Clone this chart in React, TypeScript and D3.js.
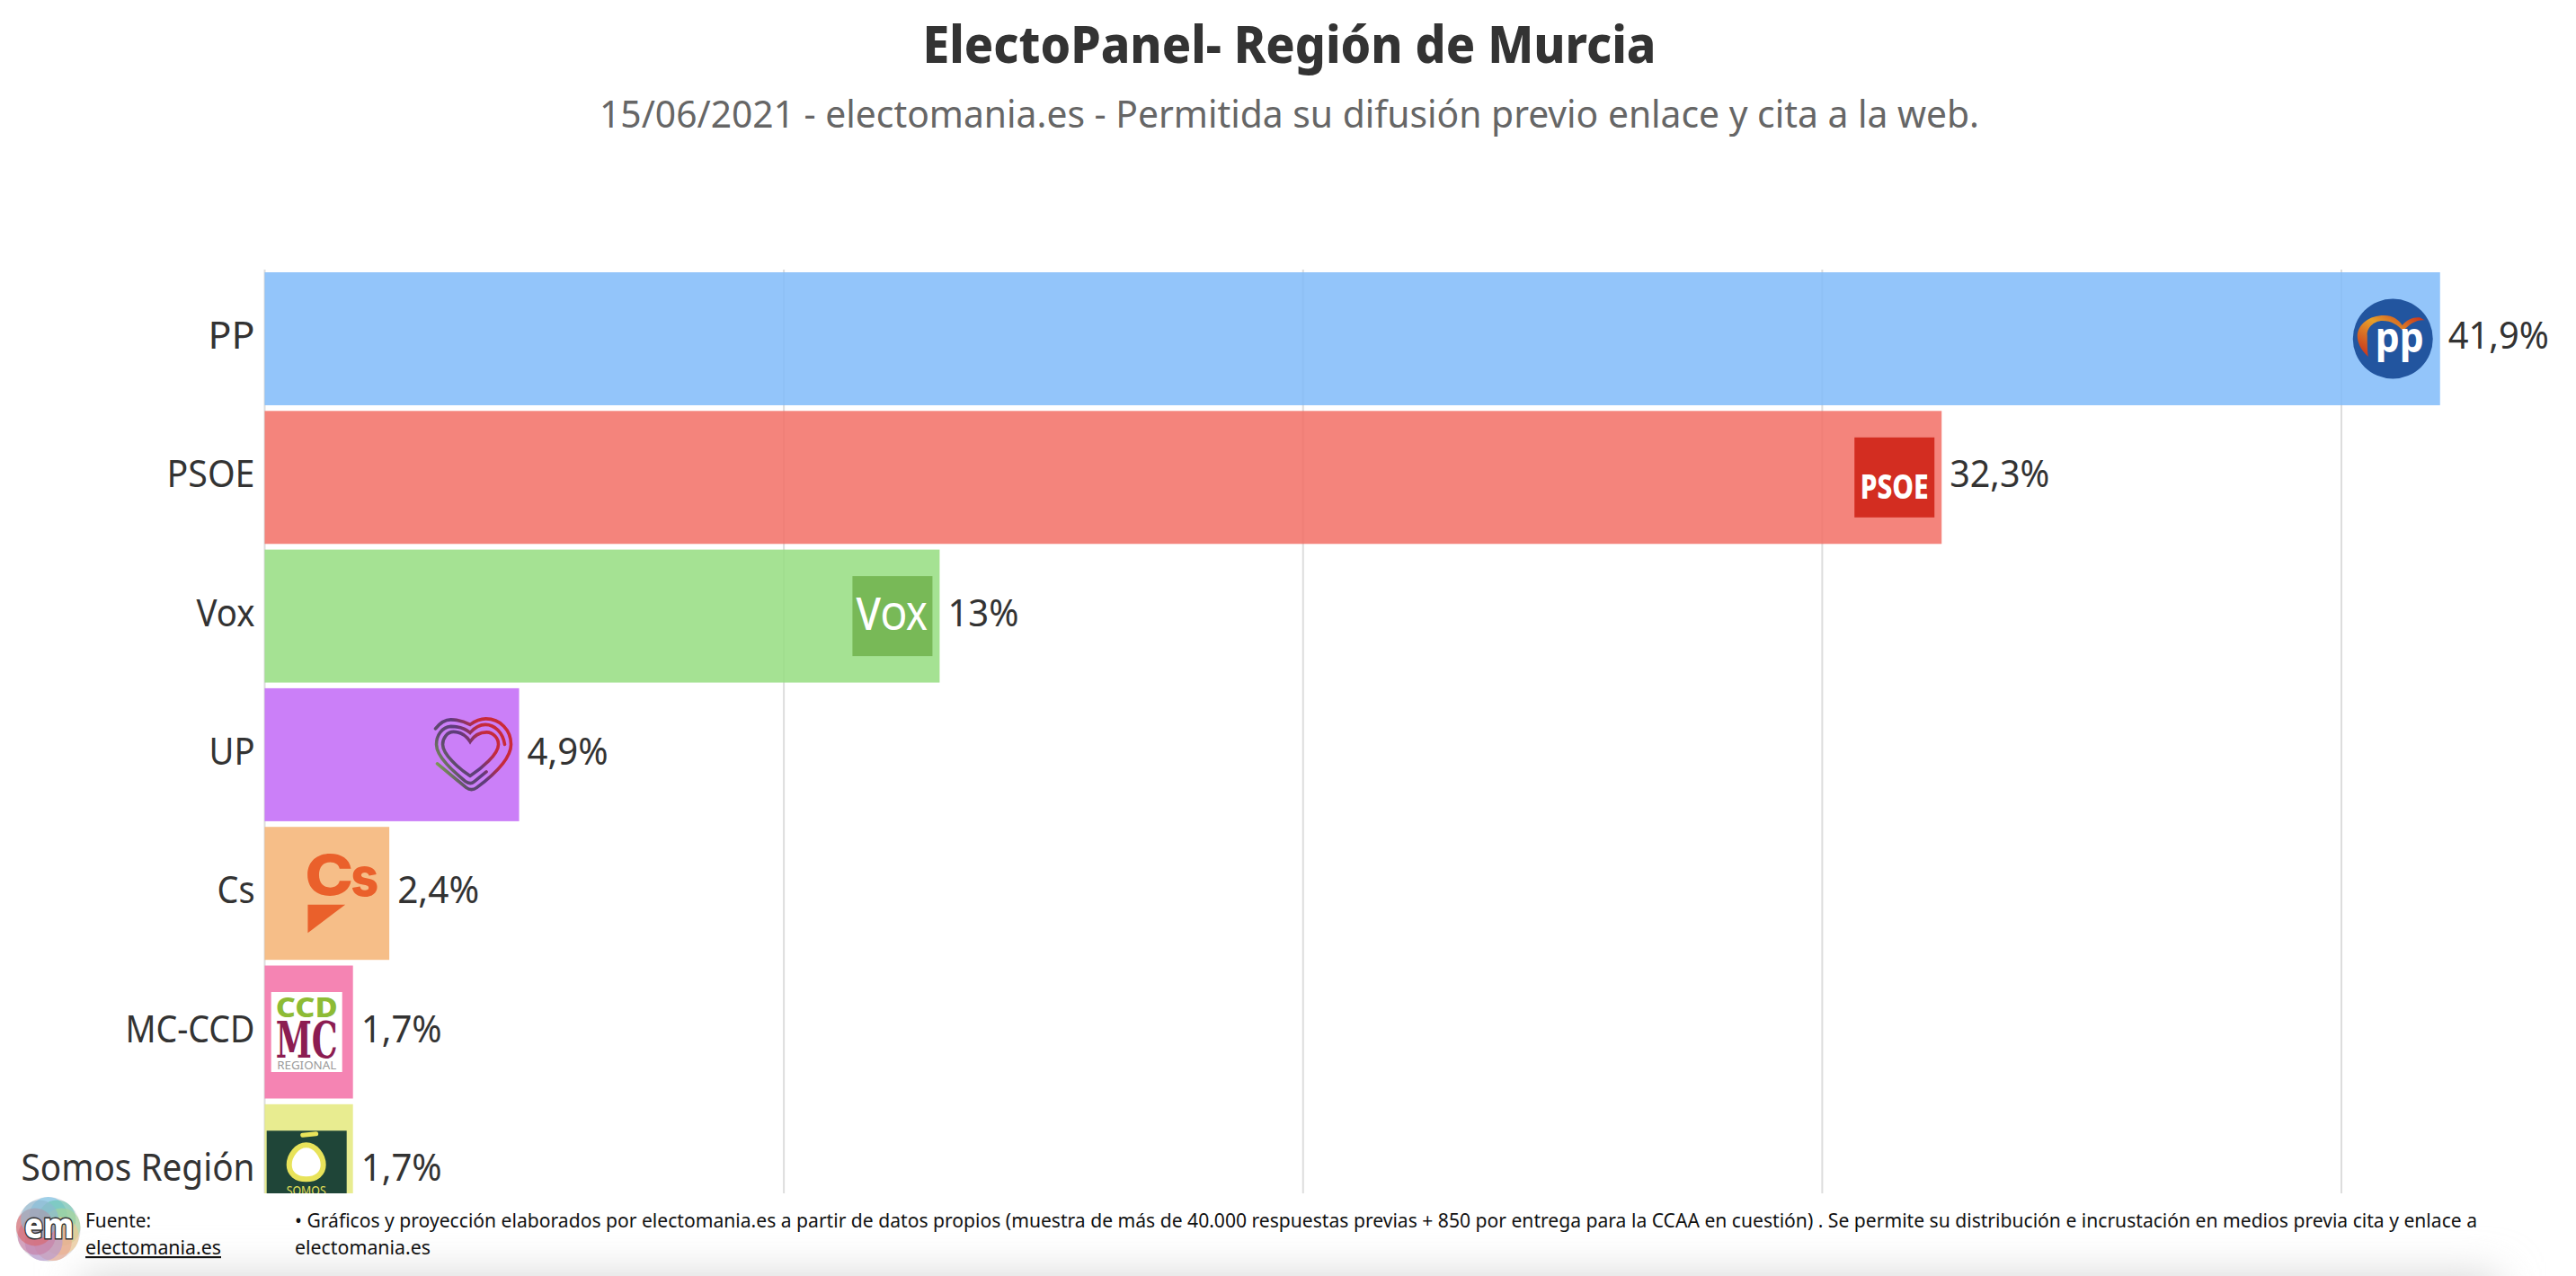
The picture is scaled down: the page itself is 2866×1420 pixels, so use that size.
import React from "react"
import * as d3 from "d3"

const categories = ["PP", "PSOE", "Vox", "UP", "Cs", "MC-CCD", "Somos Región"]
const values = [41.9, 32.3, 13, 4.9, 2.4, 1.7, 1.7]
const valueLabels = ["41,9%", "32,3%", "13%", "4,9%", "2,4%", "1,7%", "1,7%"]
const barColors = ["#80bbf9", "#f26e65", "#95dd80", "#c268f7", "#f4b373", "#f36fa6", "#e4e97c"]
const ticks = [0, 10, 20, 30, 40]

const title = "ElectoPanel- Región de Murcia"
const subtitle = "15/06/2021 - electomania.es - Permitida su difusión previo enlace y cita a la web."
const noteLine1 = "• Gráficos y proyección elaborados por electomania.es a partir de datos propios (muestra de más de 40.000 respuestas previas + 850 por entrega para la CCAA en cuestión) . Se permite su distribución e incrustación en medios previa cita y enlace a"
const noteLine2 = "electomania.es"

const WIDTH = 2866
const HEIGHT = 1420
const FONT = "'Noto Sans', sans-serif"
const LOGO = 89

const x = d3.scaleLinear().domain([0, 40]).range([294.5, 2605])
const y = d3.scaleBand().domain(categories).range([303, 1376.8]).paddingInner(0.041)

const categoryWidths = [52, 98, 65, 51, 42, 144, 260]
const valueWidths = [112, 111, 79, 90, 91, 90, 90]

const heartPaths = [
  "M4 15.5 C10 8 15 5.5 21 5.5 C30 5.5 37 8 42.5 11 C48 7 53 4.5 60 4.5 C76 4.5 88 17 88 33 C88 52 62 72 50 81 C46 84 42 84 38 81 L6 54.5",
  "M81 33 C79 20 70 11 59.5 11 C53 11 47 15 42.5 20 C37 15 29 13 21 13 C11 14 5 23 5 33 C5 47 25 64 37 74 C41 77 44 77 47 74.5 L60.5 63.5",
  "M42.5 30 C38 23 31 19 24 19 C17 19 12 26 12 33 C12 44 30 60 42.5 68 C55 60 74 44 74 33 C74 26 68 19.5 61 19.5 C54 19.5 47 23 42.5 30 Z",
]

// logos are drawn in a local 89x89 box
const logos: Record<string, React.ReactNode> = {
  PP: (
    <g>
      <circle cx={44.5} cy={44.5} r={44.5} fill="#22559f" />
      <path d="M17 64.5 C8 56 5 48 5 41 C6 28 18 18.5 35 18.5 C44 18.5 51 23 55 29.5 C60 23 68 20 75 21 L80 24 C71 23 63 28 56 36 C50 29 43 24.5 33 24.5 C23 24.5 15 33 16 41 C16 49 16 58 17 64.5 Z" fill="url(#ppArc)" />
      <text x={52} y={60} textAnchor="middle" fontFamily={FONT} fontWeight={700} fontSize={46} fill="#fff" textLength={54} lengthAdjust="spacingAndGlyphs">pp</text>
    </g>
  ),
  PSOE: (
    <g>
      <rect width={LOGO} height={LOGO} fill="#d32d21" />
      <text x={44.5} y={68} textAnchor="middle" fontFamily={FONT} fontWeight={800} fontSize={38} fill="#fff" textLength={76} lengthAdjust="spacingAndGlyphs">PSOE</text>
    </g>
  ),
  Vox: (
    <g>
      <rect width={LOGO} height={LOGO} fill="#78b957" />
      <text x={43.5} y={60} textAnchor="middle" fontFamily={FONT} fontWeight={500} fontSize={42} fill="#fff" textLength={79} lengthAdjust="spacingAndGlyphs">
        <tspan fontSize={50}>V</tspan>OX
      </text>
    </g>
  ),
  UP: (
    <g fill="none" strokeWidth={3.6} strokeLinecap="round">
      <defs>
        <linearGradient id="upStroke" gradientUnits="userSpaceOnUse" x1="85" y1="15" x2="5" y2="60">
          <stop offset="0" stopColor="#cc2a36" />
          <stop offset="0.3" stopColor="#c42a3c" />
          <stop offset="0.55" stopColor="#5f3a7e" />
          <stop offset="0.78" stopColor="#5e4a6c" />
          <stop offset="1" stopColor="#7fa650" />
        </linearGradient>
      </defs>
      {heartPaths.map((d) => (
        <path key={d} d={d} stroke="url(#upStroke)" />
      ))}
    </g>
  ),
  Cs: (
    <g fill="#ea602b">
      <text x={3} y={46.5} fontFamily="Inter, sans-serif" fontWeight={800} fontSize={62} textLength={54} lengthAdjust="spacingAndGlyphs">C</text>
      <text x={54} y={47} fontFamily="Inter, sans-serif" fontWeight={800} fontSize={60} textLength={31} lengthAdjust="spacingAndGlyphs">s</text>
      <path d="M6.3 57 H48 L6.3 88.5 Z" />
    </g>
  ),
  "MC-CCD": (
    <g>
      <rect x={6} y={0} width={79} height={89} fill="#fff" />
      <text x={45.5} y={28} textAnchor="middle" fontFamily={FONT} fontWeight={800} fontSize={30} fill="#8dbb35" textLength={69} lengthAdjust="spacingAndGlyphs">CCD</text>
      <text x={45.5} y={73} textAnchor="middle" fontFamily="'DejaVu Serif', serif" fontWeight={700} fontSize={56} fill="#8c1d52" textLength={69} lengthAdjust="spacingAndGlyphs">MC</text>
      <text x={45.5} y={86} textAnchor="middle" fontFamily={FONT} fontSize={13} fill="#9a9a9a" textLength={66} lengthAdjust="spacingAndGlyphs">REGIONAL</text>
    </g>
  ),
  "Somos Región": (
    <g>
      <rect x={1} y={0} width={89} height={89} fill="#1f4538" />
      <path d="M41 5 L56 3.5" stroke="#e8e35a" strokeWidth={5} strokeLinecap="round" fill="none" />
      <path d="M45 16 C35 16 26 27 26 38 C26 48 34 54 45 54 C56 54 64 48 64 38 C64 27 55 16 45 16 Z" fill="#fff" stroke="#e8e35a" strokeWidth={6} />
      <text x={45} y={72} textAnchor="middle" fontFamily={FONT} fontSize={15} fill="#e8e35a" textLength={44} lengthAdjust="spacingAndGlyphs">SOMOS</text>
    </g>
  ),
}

const emPetals = ["#79c4e8", "#6fc6b0", "#a8d49a", "#efc78f", "#e8a890", "#b79ad0", "#c77fa8", "#d9696e", "#8fb8cf"]

const App: React.FC = () => {
  const bw = y.bandwidth()
  return (
    <svg width={WIDTH} height={HEIGHT} style={{ position: "absolute", left: 0, top: 0, display: "block" }}>
      <defs>
        <clipPath id="plotClip">
          <rect x={0} y={290} width={WIDTH} height={1328 - 290} />
        </clipPath>
        <filter id="footShadow" x="-10%" y="-300%" width="120%" height="700%">
          <feGaussianBlur stdDeviation="24" />
        </filter>
        <linearGradient id="ppArc" x1="0" y1="1" x2="1" y2="0">
          <stop offset="0" stopColor="#c4281c" />
          <stop offset="0.55" stopColor="#e6a02a" />
          <stop offset="1" stopColor="#c4281c" />
        </linearGradient>
      </defs>

      <rect x={90} y={1420} width={2690} height={60} fill="#d4d4d4" filter="url(#footShadow)" />

      <text x={1434.5} y={70} textAnchor="middle" fontFamily={FONT} fontWeight={800} fontSize={57} fill="#333" textLength={816} lengthAdjust="spacingAndGlyphs">{title}</text>
      <text x={1434.5} y={142} textAnchor="middle" fontFamily={FONT} fontSize={41} fill="#666" textLength={1535} lengthAdjust="spacingAndGlyphs">{subtitle}</text>

      <g clipPath="url(#plotClip)">
        {ticks.map((t) => (
          <line key={t} x1={x(t)} x2={x(t)} y1={300} y2={1328} stroke="#dddddd" strokeWidth={2} />
        ))}
        {categories.map((c, i) => (
          <rect key={c} x={x(0)} y={y(c)} width={x(values[i]) - x(0)} height={bw} fill={barColors[i]} fillOpacity={0.85} />
        ))}
        {categories.map((c, i) => (
          <g key={c} transform={`translate(${x(values[i]) - 8 - LOGO} ${y(c)! + (bw - LOGO) / 2})`}>{logos[c]}</g>
        ))}
        {categories.map((c, i) => (
          <text key={c} x={283.5} y={y(c)! + bw / 2 + 11} textAnchor="end" fontFamily={FONT} fontSize={41} fill="#333" textLength={categoryWidths[i]} lengthAdjust="spacingAndGlyphs">{c}</text>
        ))}
        {categories.map((c, i) => (
          <text key={c} x={x(values[i]) + 9} y={y(c)! + bw / 2 + 11} fontFamily={FONT} fontSize={41} fill="#333" textLength={valueWidths[i]} lengthAdjust="spacingAndGlyphs">{valueLabels[i]}</text>
        ))}
      </g>

      <g>
        <circle cx={53.7} cy={1368} r={36} fill="#e4e4e8" />
        {emPetals.map((p, i) => {
          const a = (i / emPetals.length) * 2 * Math.PI
          return <circle key={p} cx={53.7 + 15 * Math.sin(a)} cy={1368 - 15 * Math.cos(a)} r={21} fill={p} fillOpacity={0.65} />
        })}
        <text x={54.5} y={1378} textAnchor="middle" fontFamily={FONT} fontWeight={800} fontSize={40} fill="#fff" stroke="#333" strokeWidth={3} paintOrder="stroke" textLength={55} lengthAdjust="spacingAndGlyphs">em</text>
      </g>

      <text x={95} y={1366} fontFamily={FONT} fontSize={21.5} fill="#111" textLength={73} lengthAdjust="spacingAndGlyphs">Fuente:</text>
      <text x={95} y={1396} fontFamily={FONT} fontSize={21.5} fill="#111" textDecoration="underline" textLength={151} lengthAdjust="spacingAndGlyphs">electomania.es</text>
      <text x={328} y={1366} fontFamily={FONT} fontSize={21.5} fill="#111" textLength={2428} lengthAdjust="spacingAndGlyphs">{noteLine1}</text>
      <text x={328} y={1396} fontFamily={FONT} fontSize={21.5} fill="#111" textLength={151} lengthAdjust="spacingAndGlyphs">{noteLine2}</text>
    </svg>
  )
}

export default App
